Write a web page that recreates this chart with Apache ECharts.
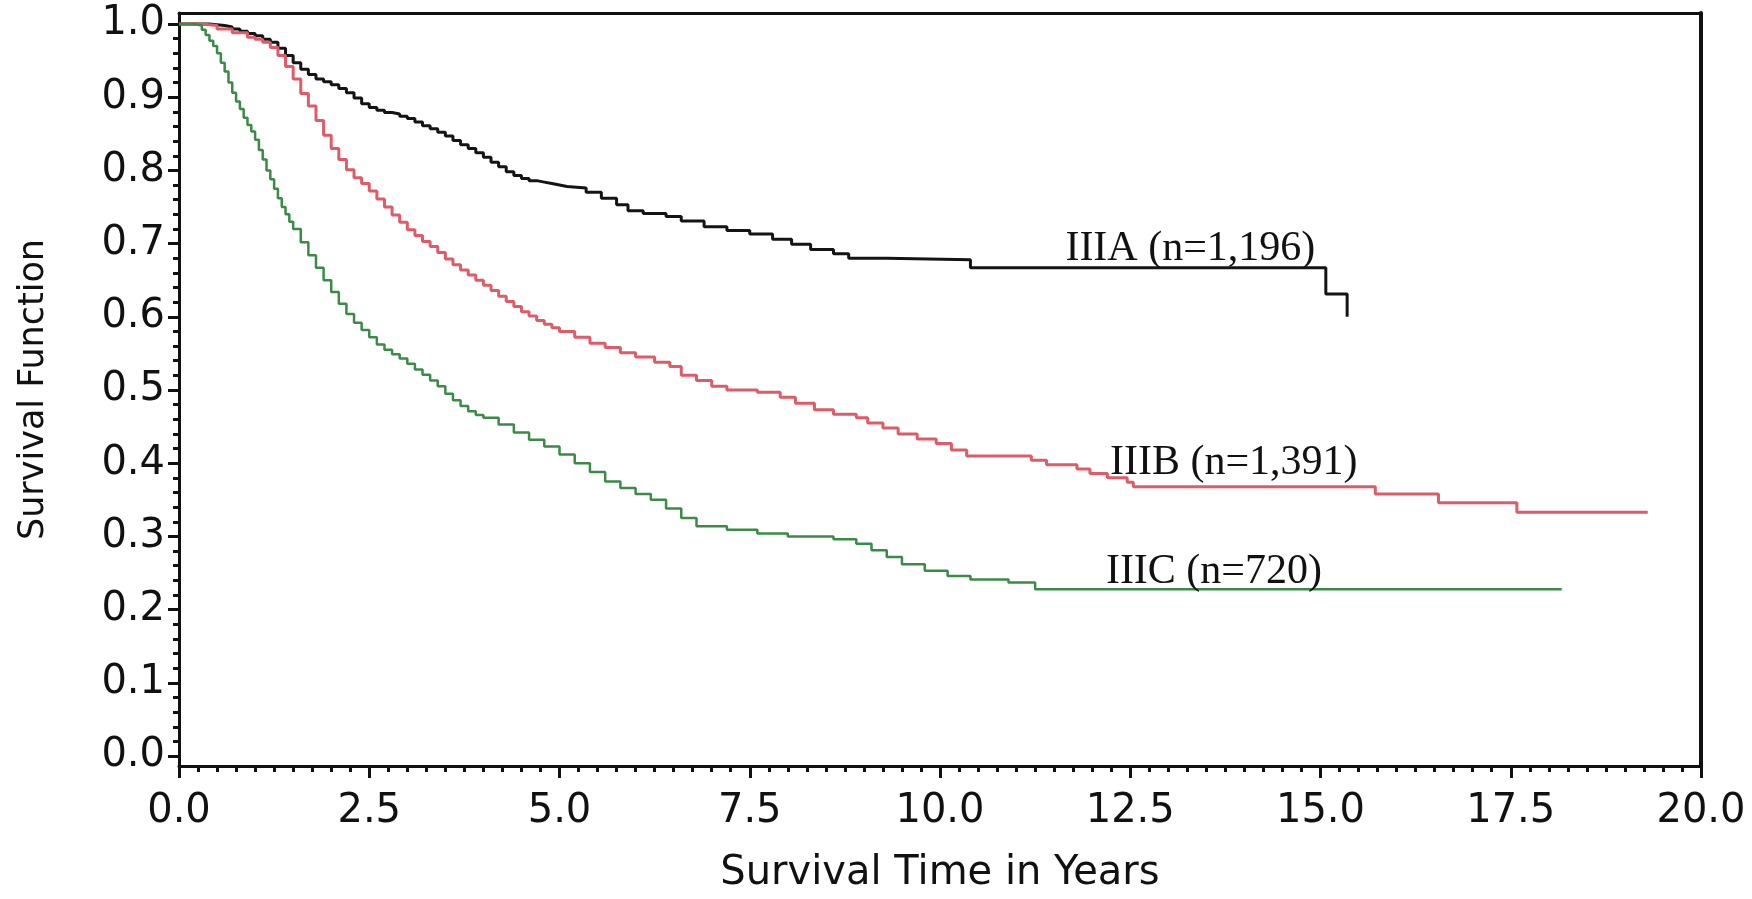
<!DOCTYPE html>
<html lang="en">
<head>
    <meta charset="UTF-8">
    <title>Survival by stage</title>
    <style>
        body {margin: 0; background: #fff;}
        #chart {width: 1752px; height: 899px;}
    </style>
</head>
<body>
    <div id="chart"></div>

    <script src="https://cdn.jsdelivr.net/npm/echarts/dist/echarts.min.js"></script>
    <script>

// stage IIIA
const timeA = [0, 0.4, 0.5, 0.6, 0.7, 0.8, 0.9, 1.0, 1.1, 1.2, 1.3, 1.4, 1.5, 1.6, 1.7, 1.8, 1.9, 2.0, 2.1, 2.2,
    2.3, 2.4, 2.5, 2.6, 2.7, 2.8, 2.9, 3.0, 3.1, 3.2, 3.3, 3.4, 3.5, 3.6, 3.7, 3.8, 3.9, 4.0, 4.1, 4.2,
    4.3, 4.4, 4.5, 4.6, 4.7, 4.8, 4.9, 5.0, 5.1, 5.35, 5.55, 5.75, 5.9, 6.1, 6.4, 6.6, 6.9, 7.2, 7.5, 7.8,
    8.05, 8.3, 8.6, 8.8, 9.3, 10.4, 15.07, 15.35];
const survA = [1.0, 0.999, 0.998, 0.996, 0.993, 0.99, 0.987, 0.984, 0.979, 0.975, 0.967, 0.957, 0.947, 0.938, 0.931, 0.925, 0.921, 0.917, 0.912, 0.906,
    0.899, 0.891, 0.886, 0.882, 0.879, 0.877, 0.874, 0.871, 0.866, 0.861, 0.857, 0.852, 0.847, 0.841, 0.835, 0.83, 0.824, 0.818, 0.811, 0.805,
    0.798, 0.793, 0.789, 0.786, 0.784, 0.782, 0.78, 0.778, 0.776, 0.77, 0.762, 0.753, 0.745, 0.741, 0.737, 0.731, 0.723, 0.718, 0.713, 0.706,
    0.699, 0.692, 0.686, 0.68, 0.678, 0.667, 0.631, 0.60];

// stage IIIB
const timeB = [0, 0.3, 0.5, 0.7, 0.9, 1.0, 1.1, 1.2, 1.3, 1.4, 1.5, 1.6, 1.7, 1.8, 1.9, 2.0, 2.1, 2.2, 2.3, 2.4,
    2.5, 2.6, 2.7, 2.8, 2.9, 3.0, 3.1, 3.2, 3.3, 3.4, 3.5, 3.6, 3.7, 3.8, 3.9, 4.0, 4.1, 4.2, 4.3, 4.4,
    4.5, 4.6, 4.7, 4.8, 4.9, 5.0, 5.2, 5.4, 5.6, 5.8, 6.0, 6.25, 6.45, 6.6, 6.8, 7.0, 7.2, 7.6, 7.9, 8.1,
    8.35, 8.6, 8.9, 9.05, 9.25, 9.45, 9.7, 9.95, 10.15, 10.35, 11.2, 11.4, 11.8, 11.97, 12.2, 12.46, 12.54, 15.72, 16.55, 17.58,
    19.3];
const survB = [1.0, 0.998, 0.993, 0.988, 0.982, 0.979, 0.975, 0.968, 0.957, 0.942, 0.925, 0.905, 0.888, 0.868, 0.848, 0.83, 0.815, 0.801, 0.79, 0.782,
    0.772, 0.761, 0.75, 0.739, 0.729, 0.719, 0.711, 0.703, 0.696, 0.688, 0.679, 0.671, 0.664, 0.657, 0.65, 0.643, 0.636, 0.628, 0.621, 0.614,
    0.607, 0.601, 0.595, 0.59, 0.585, 0.58, 0.572, 0.564, 0.558, 0.551, 0.545, 0.538, 0.532, 0.52, 0.513, 0.505, 0.5, 0.497, 0.49, 0.482,
    0.473, 0.467, 0.462, 0.455, 0.448, 0.44, 0.433, 0.427, 0.418, 0.41, 0.404, 0.398, 0.392, 0.386, 0.38, 0.374, 0.368, 0.358, 0.346, 0.333,
    0.333];

// stage IIIC
const timeC = [0, 0.2, 0.3, 0.35, 0.4, 0.45, 0.5, 0.55, 0.6, 0.65, 0.7, 0.75, 0.8, 0.85, 0.9, 0.95, 1.0, 1.05, 1.1, 1.15,
    1.2, 1.25, 1.3, 1.35, 1.4, 1.45, 1.5, 1.6, 1.7, 1.8, 1.9, 2.0, 2.1, 2.2, 2.3, 2.4, 2.5, 2.6, 2.7, 2.8,
    2.9, 3.0, 3.1, 3.2, 3.3, 3.4, 3.5, 3.6, 3.7, 3.8, 3.9, 4.0, 4.2, 4.4, 4.6, 4.8, 5.0, 5.2, 5.4, 5.6,
    5.8, 6.0, 6.2, 6.4, 6.6, 6.8, 7.2, 7.6, 8.0, 8.6, 8.9, 9.1, 9.3, 9.5, 9.8, 10.1, 10.4, 10.9, 11.25, 18.17];
const survC = [1.0, 0.998, 0.992, 0.985, 0.977, 0.97, 0.96, 0.947, 0.935, 0.92, 0.906, 0.894, 0.884, 0.872, 0.862, 0.853, 0.842, 0.828, 0.815, 0.8,
    0.788, 0.775, 0.762, 0.75, 0.74, 0.73, 0.72, 0.702, 0.684, 0.667, 0.65, 0.634, 0.618, 0.604, 0.592, 0.582, 0.572, 0.562, 0.555, 0.549,
    0.543, 0.536, 0.528, 0.521, 0.513, 0.505, 0.495, 0.486, 0.478, 0.471, 0.466, 0.462, 0.453, 0.442, 0.432, 0.423, 0.412, 0.4, 0.388, 0.375,
    0.366, 0.358, 0.35, 0.338, 0.325, 0.314, 0.309, 0.304, 0.3, 0.296, 0.29, 0.281, 0.272, 0.262, 0.253, 0.246, 0.241, 0.237, 0.228, 0.228];

const stageNames = ['IIIA (n=1,196)', 'IIIB (n=1,391)', 'IIIC (n=720)'];
const stageColors = ['#141414', '#dc5c6a', '#3b8a48'];
const stageWidths = [3, 3, 2.5];
// where each curve label sits (years, survival)
const labelAt = [[13.29, 0.692], [13.86, 0.40], [13.6, 0.252]];

const yTicks = [0.0, 0.1, 0.2, 0.3, 0.4, 0.5, 0.6, 0.7, 0.8, 0.9, 1.0];
const yMinor = [];
for (let i = 0; i <= 50; i++) {
    if (i % 5 !== 0) yMinor.push(i * 0.02);
}

const yMin = -0.0136;
const yMax = 1.015;
const sansFont = 'DejaVu Sans';
const ink = '#111';

const chart = echarts.init(document.getElementById('chart'));

function pairs(ts, ss) {
    return ts.map((t, i) => [t, ss[i]]);
}

function stageSeries(idx, ts, ss) {
    return {
        type: 'line',
        step: 'end',
        symbol: 'none',
        data: pairs(ts, ss),
        lineStyle: {color: stageColors[idx], width: stageWidths[idx]},
        itemStyle: {color: stageColors[idx]},
        markPoint: {
            symbol: 'circle',
            symbolSize: 1,
            itemStyle: {color: 'rgba(0,0,0,0)'},
            label: {
                show: true,
                position: 'inside',
                formatter: '{b}',
                color: ink,
                fontFamily: 'Liberation Serif',
                fontSize: 42
            },
            data: [{name: stageNames[idx], coord: labelAt[idx]}]
        }
    };
}

chart.setOption({
    animation: false,
    backgroundColor: '#fff',
    grid: {left: 179, right: 51, top: 13, bottom: 131},
    xAxis: [{
        type: 'value',
        position: 'bottom',
        min: 0,
        max: 20,
        interval: 2.5,
        axisLine: {onZero: false, lineStyle: {color: ink, width: 3}},
        axisTick: {length: 12, lineStyle: {color: ink, width: 3}},
        minorTick: {show: true, splitNumber: 10, length: 6, lineStyle: {color: ink, width: 3}},
        splitLine: {show: false},
        axisLabel: {
            color: ink, fontFamily: sansFont, fontSize: 40, margin: 26,
            formatter: v => v.toFixed(1)
        },
        name: 'Survival Time in Years',
        nameLocation: 'middle',
        nameGap: 88,
        nameTextStyle: {color: ink, fontFamily: sansFont, fontSize: 40}
    }, {
        type: 'value',
        position: 'top',
        min: 0,
        max: 20,
        axisLine: {onZero: false, lineStyle: {color: ink, width: 3}},
        axisTick: {show: false},
        axisLabel: {show: false},
        splitLine: {show: false}
    }],
    yAxis: [{
        type: 'value',
        position: 'left',
        min: yMin,
        max: yMax,
        axisLine: {show: true, onZero: false, lineStyle: {color: ink, width: 3}},
        axisTick: {show: true, customValues: yTicks, length: 11, lineStyle: {color: ink, width: 3}},
        splitLine: {show: false},
        axisLabel: {
            customValues: yTicks,
            color: ink, fontFamily: sansFont, fontSize: 40, margin: 14,
            formatter: v => v.toFixed(1)
        },
        name: 'Survival Function',
        nameLocation: 'middle',
        nameGap: 128,
        nameRotate: 90,
        nameTextStyle: {color: ink, fontFamily: sansFont, fontSize: 35}
    }, {
        // minor ticks on the left
        type: 'value',
        position: 'left',
        min: yMin,
        max: yMax,
        axisLine: {show: false, onZero: false},
        axisTick: {show: true, customValues: yMinor, length: 6, lineStyle: {color: ink, width: 3}},
        axisLabel: {show: false},
        splitLine: {show: false}
    }, {
        type: 'value',
        position: 'right',
        min: yMin,
        max: yMax,
        axisLine: {show: true, onZero: false, lineStyle: {color: ink, width: 4}},
        axisTick: {show: false},
        axisLabel: {show: false},
        splitLine: {show: false}
    }],
    series: [
        stageSeries(0, timeA, survA),
        stageSeries(1, timeB, survB),
        stageSeries(2, timeC, survC)
    ]
});
    </script>
</body>
</html>
